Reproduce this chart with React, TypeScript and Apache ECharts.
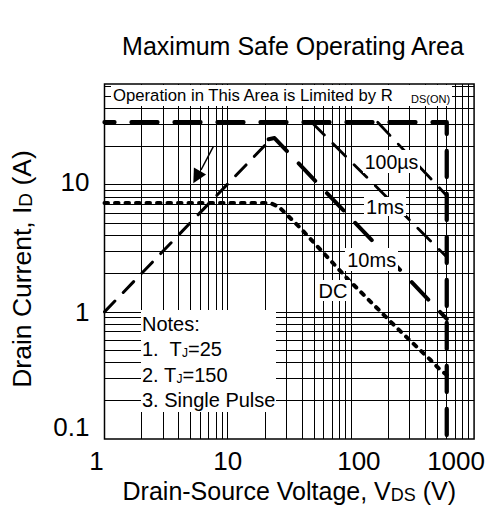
import React, { useEffect, useRef } from 'react';
import * as echarts from 'echarts';

// ---- data ----
const xTickLabels = [1, 10, 100, 1000];
const yTickLabels = [0.1, 1, 10];
const xGridValues = [2, 3, 4, 5, 6, 7, 8, 9, 10, 20, 30, 40, 50, 60, 70, 80, 90, 100, 200, 300, 400, 500, 600, 700, 800, 900];
const yGridValues = [0.2, 0.3, 0.4, 0.5, 0.6, 0.7, 0.8, 0.9, 1, 2, 3, 4, 5, 6, 7, 8, 9, 10, 20, 30, 40, 50, 60];

const boundaryLimit = [[1, 31], [600, 31], [600, 0.1]];
const rdsLimit = [[1, 1], [22, 22.4]];
const pulse100us = [[165, 31], [600, 8.2]];
const pulse1ms = [[48, 31], [600, 2.7]];
const pulse10ms = [[21.5, 22.8], [24, 23.3], [600, 0.88]];
const dcLimit = [[1, 7.2], [22, 7.2], [26, 6.7], [31.4, 5.6], [37.8, 4.7], [95, 1.8], [239, 0.74], [441, 0.42], [530, 0.35], [600, 0.32]];

const curveLabels = ['100µs', '1ms', '10ms', 'DC'];
const noteLines = ['Notes:', '1.  T{s|J}=25', '2. T{s|J}=150', '3. Single Pulse'];

const FONT = "'Liberation Sans', Arial, Helvetica, sans-serif";

function matchTick(v: number, ticks: number[]) {
  for (let i = 0; i < ticks.length; i++) {
    if (Math.abs(Math.log10(v) - Math.log10(ticks[i])) < 1e-6) return i;
  }
  return -1;
}

const xPads = [[0, 16, 0, 0], [0, 0, 0, 0], [0, 0, 0, 16], [0, 36, 0, 0]];
const yPads = [[0, 0, 24, 0], [0, 0, 0, 0], [0, 0, 6, 0]];

function richFrom(pads: number[][], size: number) {
  const r: any = {};
  pads.forEach((p, i) => {
    r['k' + i] = { fontSize: size, fontFamily: FONT, color: '#000', padding: p };
  });
  return r;
}

function lineSeries(data: number[][], width: number, dash: number[], dashOffset = 0, z = 3) {
  return {
    type: 'line',
    data,
    symbol: 'none',
    showSymbol: false,
    silent: true,
    z,
    lineStyle: { color: '#000', width, type: dash, dashOffset, cap: 'round', join: 'round' },
  };
}

function txt(text: string, x: number, y: number, size: number, align = 'left', rich?: any) {
  return {
    type: 'text',
    z: 101,
    silent: true,
    style: {
      text,
      x,
      y,
      fontSize: size,
      fontFamily: FONT,
      fill: '#000',
      align,
      verticalAlign: 'middle',
      textAlign: align,
      textVerticalAlign: 'middle',
      rich,
    },
  };
}

function box(x: number, y: number, w: number, h: number) {
  return { type: 'rect', z: 100, silent: true, shape: { x, y, width: w, height: h }, style: { fill: '#fff' } };
}

const subRich = {
  s: { fontSize: 12, fontFamily: FONT, fill: '#000', color: '#000', verticalAlign: 'bottom', lineHeight: 12 },
};

const option: any = {
  animation: false,
  backgroundColor: '#fff',
  title: {
    text: 'Maximum Safe Operating Area',
    left: 293,
    top: 33,
    textAlign: 'center',
    padding: 0,
    textStyle: { fontSize: 25, fontFamily: FONT, color: '#000', fontWeight: 'normal' },
  },
  grid: {
    left: 103,
    right: 11,
    top: 84,
    bottom: 89,
    show: true,
    borderColor: '#000',
    borderWidth: 1.5,
    backgroundColor: '#fff',
  },
  xAxis: {
    type: 'log',
    logBase: 10,
    min: 1,
    max: 1000,
    axisLine: { show: false },
    axisTick: { show: false },
    splitLine: { show: false },
    axisLabel: {
      margin: 9,
      fontSize: 26,
      fontFamily: FONT,
      color: '#000',
      formatter: (v: number) => {
        const i = matchTick(v, xTickLabels);
        return i < 0 ? '' : `{k${i}|${xTickLabels[i]}}`;
      },
      rich: richFrom(xPads, 26),
    },
    name: '{a|Drain-Source Voltage, V}{b|DS}{a| (V)}',
    nameLocation: 'middle',
    nameGap: 38,
    nameTextStyle: {
      rich: {
        a: { fontSize: 25, fontFamily: FONT, color: '#000', lineHeight: 25 },
        b: { fontSize: 18, fontFamily: FONT, color: '#000', lineHeight: 18, verticalAlign: 'bottom' },
      },
    },
  },
  yAxis: {
    type: 'log',
    logBase: 10,
    min: 0.1,
    max: 62,
    axisLine: { show: false },
    axisTick: { show: false },
    splitLine: { show: false },
    axisLabel: {
      margin: 15,
      fontSize: 26,
      fontFamily: FONT,
      color: '#000',
      formatter: (v: number) => {
        const i = matchTick(v, yTickLabels);
        return i < 0 ? '' : `{k${i}|${yTickLabels[i]}}`;
      },
      rich: richFrom(yPads, 26),
    },
    name: '{a|Drain Current, I}{b|D}{a| (A)}',
    nameLocation: 'middle',
    nameRotate: 90,
    nameGap: 70,
    nameTextStyle: {
      padding: [0, 15, 0, 0],
      rich: {
        a: { fontSize: 26.5, fontFamily: FONT, color: '#000', lineHeight: 26 },
        b: { fontSize: 19, fontFamily: FONT, color: '#000', lineHeight: 19, verticalAlign: 'bottom' },
      },
    },
  },
  series: [
    {
      type: 'line',
      data: [[1, 0.1]],
      symbol: 'none',
      silent: true,
      z: 1,
      lineStyle: { width: 0, opacity: 0 },
      markLine: {
        silent: true,
        symbol: ['none', 'none'],
        label: { show: false },
        emphasis: { disabled: true },
        animation: false,
        lineStyle: { color: '#000', width: 1, type: 'solid' },
        data: [
          ...xGridValues.map((v) => ({ xAxis: v })),
          ...yGridValues.map((v) => ({ yAxis: v })),
        ],
      },
    },
    lineSeries(rdsLimit, 3, [15, 12]),
    lineSeries(pulse100us, 2.8, [18, 12]),
    lineSeries(pulse1ms, 2.8, [18, 12]),
    lineSeries(pulse10ms, 4, [24, 17]),
    lineSeries(dcLimit, 4, [3.5, 7]),
    lineSeries(boundaryLimit, 4.3, [26, 17], 16),
  ],
  graphic: [
    // Operation box
    box(111, 85, 341, 21),
    txt('{a|Operation in This Area is Limited by R}{s|DS(ON)}', 113, 95.5, 16.7, 'left', {
      a: { fontSize: 16.7, fontFamily: FONT, fill: '#000', color: '#000', lineHeight: 17 },
      s: { fontSize: 11, fontFamily: FONT, fill: '#000', color: '#000', lineHeight: 11, verticalAlign: 'bottom', padding: [0, 0, 0, 17] },
    }),
    // Notes box
    box(141, 310, 135, 102),
    txt(noteLines[0], 142, 323.5, 20, 'left', subRich),
    txt(noteLines[1], 142, 348.5, 20, 'left', subRich),
    txt(noteLines[2], 142, 374.5, 20, 'left', subRich),
    txt(noteLines[3], 142, 400, 20, 'left', subRich),
    // curve labels
    box(363, 150, 57, 23),
    txt(curveLabels[0], 391.5, 161.5, 19.5, 'center'),
    box(364, 197, 42, 19),
    txt(curveLabels[1], 385, 206.5, 20, 'center'),
    box(345, 248, 53, 23),
    txt(curveLabels[2], 371.7, 260, 20, 'center'),
    box(316, 280, 34, 21),
    txt(curveLabels[3], 333, 290.5, 20, 'center'),
    // arrow
    {
      type: 'line',
      z: 101,
      silent: true,
      shape: { x1: 213.3, y1: 146.7, x2: 201, y2: 170 },
      style: { stroke: '#000', lineWidth: 1.5 },
    },
    {
      type: 'polygon',
      z: 101,
      silent: true,
      shape: { points: [[193.3, 183.3], [193.9, 167.6], [206.1, 174.4]] },
      style: { fill: '#000' },
    },
  ],
};

export default function App() {
  const ref = useRef<HTMLDivElement>(null);
  useEffect(() => {
    const chart = echarts.init(ref.current!, undefined, { renderer: 'svg' });
    chart.setOption(option);
    return () => chart.dispose();
  }, []);
  return (
    <div
      ref={ref}
      style={{ position: 'fixed', left: 0, top: 0, width: 488, height: 528, background: '#fff' }}
    />
  );
}
